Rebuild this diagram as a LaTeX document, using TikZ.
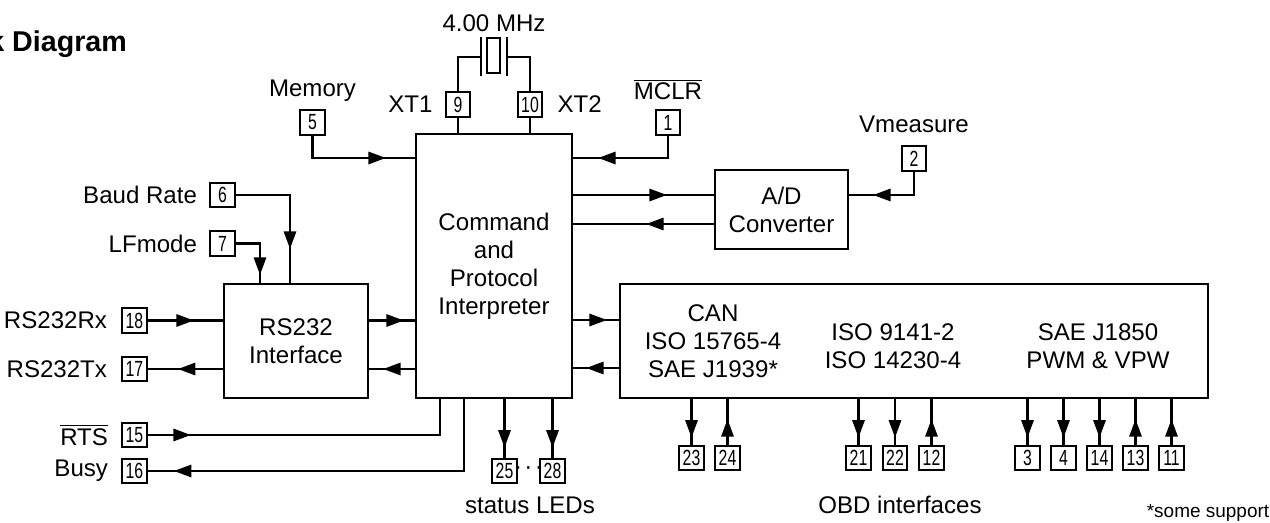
\documentclass[tikz,border=0pt]{standalone}
\usepackage{fontspec}
\setmainfont{Liberation Sans}
\newfontfamily\pinfont[FakeStretch=0.72]{Liberation Sans}
\usetikzlibrary{arrows.meta,decorations.markings,positioning}
\def\txt{\fontsize{13.7}{15.9}\selectfont}% text size of the labels
\def\pinsz{\pinfont\fontsize{12.5}{12.5}\selectfont}

\begin{document}
\begin{tikzpicture}[x=0.02cm,y=-0.02cm,line width=1.3pt,
    blk/.style={draw,inner sep=0pt,align=center,font=\txt},
    pin/.style={draw,minimum size=0.49cm,inner sep=0pt,font=\pinsz},
    lbl/.style={inner sep=0pt,font=\txt},
    tip/.style={postaction={decorate,decoration={markings,
        mark=at position #1 with {\arrow{Triangle[length=10pt,width=7pt]}}}}}]
   \useasboundingbox (0,0) rectangle (1270,523);

   \node[anchor=base east,inner sep=0pt,font=\bfseries\fontsize{16.3}{18}\selectfont] (title) at (128,52) {Block Diagram};

   % blocks
   \node[blk,minimum width=3.12cm,minimum height=5.28cm] (cmd) at (494,266) {Command\\and\\Protocol\\Interpreter};
   \node[blk,minimum width=2.66cm,minimum height=1.58cm] (adc) at (781.5,209.5) {A/D\\Converter};
   \node[blk,minimum width=2.88cm,minimum height=2.28cm] (rs) at (296,341) {RS232\\Interface};
   \node[blk,minimum width=11.76cm,minimum height=2.28cm] (obd) at (914,341) {};
   \node[lbl,align=center] (can) at (713,341) {CAN\\ISO 15765-4\\SAE J1939*};
   \node[lbl,align=center] (kline) at (893,346) {ISO 9141-2\\ISO 14230-4};
   \node[lbl,align=center] (j1850) at (1098,346) {SAE J1850\\PWM \& VPW};

   % pins round the command block
   \node[pin] (p9) at (458,104.5) {9};
   \node[pin] (p10) at (530,104.5) {10};
   \node[pin] (p1) at (668,122.5) {1};
   \node[pin] (p5) at (312.5,122.5) {5};
   \node[pin] (p2) at (914,158.5) {2};
   \node[pin] (p6) at (222.5,195) {6};
   \node[pin] (p7) at (222.5,243.5) {7};
   \node[pin] (p18) at (134.5,320.5) {18};
   \node[pin] (p17) at (134.5,369) {17};
   \node[pin] (p15) at (134.5,435) {15};
   \node[pin] (p16) at (134.5,471) {16};
   \node[pin] (p25) at (504.5,471) {25};
   \node[pin] (p28) at (552.5,471) {28};
   \node[inner sep=0pt,font=\txt] (dots) at (528.5,471) {·\hspace{1.4pt}·\hspace{1.4pt}·};
   \foreach \n/\x in {23/691.5,24/727.5,21/858.5,22/895,12/931.5,3/1027.5,4/1063.5,14/1099.5,13/1135.5,11/1171.5}
      \node[pin] (p\n) at (\x,458) {\n};

   % labels
   \node[lbl] (xtal) at (494,23) {4.00 MHz};
   \node[lbl,left=0.22cm of p9] (xt1) {XT1};
   \node[lbl,right=0.26cm of p10] (xt2) {XT2};
   \node[lbl,above=0.16cm of p1] (mclr) {$\overline{\hbox{MCLR}}$};
   \node[lbl,above=0.13cm of p5] (mem) {Memory};
   \node[lbl,above=0.22cm of p2] (vmeas) {Vmeasure};
   \node[lbl,left=0.22cm of p6] (baud) {Baud Rate};
   \node[lbl,left=0.22cm of p7] (lfm) {LFmode};
   \node[lbl,left=0.26cm of p18] (rx) {RS232Rx};
   \node[lbl,left=0.26cm of p17] (tx) {RS232Tx};
   \node[lbl,left=0.24cm of p15] (rts) {$\overline{\hbox{RTS}}$};
   \node[lbl,left=0.24cm of p16] (busy) {Busy};
   \node[lbl] (leds) at (530,505) {status LEDs};
   \node[lbl] (obdif) at (900,505) {OBD interfaces};
   \node[inner sep=0pt,font=\fontsize{10.8}{12}\selectfont] (note) at (1208,513) {*some support};

   % crystal
   \coordinate (xl) at (481,57);
   \coordinate (xr) at (507,57);
   \draw (481,37) -- (481,76) (507,37) -- (507,76);
   \draw (487,38) rectangle (500,73);
   \draw (p9) |- (xl);
   \draw (p10) |- (xr);
   \draw (p9) -- (p9 |- cmd.north);
   \draw (p10) -- (p10 |- cmd.north);

   % levels of the horizontal lines
   \coordinate (ymem) at (0,158);
   \coordinate (yad1) at (0,195);
   \coordinate (yad2) at (0,224);
   \coordinate (yin) at (0,320);
   \coordinate (yout) at (0,368);
   \coordinate (xbaud) at (290,0);
   \coordinate (xlf) at (260,0);
   \coordinate (xrts) at (440,0);
   \coordinate (xbusy) at (464,0);

   \draw[tip=-0.58cm] (p5) |- (cmd.west |- ymem);
   \draw[tip=-0.5cm] (p1) |- (cmd.east |- ymem);
   \draw[tip=-0.94cm] (cmd.east |- yad1) -- (adc.west |- yad1);
   \draw[tip=-1.46cm] (adc.west |- yad2) -- (cmd.east |- yad2);
   \draw[tip=-0.48cm] (p2) |- (adc.east |- yad1);

   \draw[tip=-0.68cm] (p6) -| (rs.north -| xbaud);
   \draw[tip=-0.16cm] (p7) -| (rs.north -| xlf);
   \draw[tip=-0.58cm] (p18) -- (rs.west |- p18);
   \draw[tip=-0.6cm] (rs.west |- p17) -- (p17);
   \draw[tip=-0.22cm] (rs.east |- p18) -- (cmd.west |- p18);
   \draw[tip=-0.28cm] (cmd.west |- p17) -- (rs.east |- p17);
   \draw[tip=0.86cm] (p15) -| (cmd.south -| xrts);
   \draw[tip=-0.52cm] (cmd.south -| xbusy) |- (p16);
   \draw[tip=-0.2cm] (cmd.south -| p25) -- (p25);
   \draw[tip=-0.2cm] (cmd.south -| p28) -- (p28);

   \draw[tip=-0.24cm] (cmd.east |- yin) -- (obd.west |- yin);
   \draw[tip=-0.26cm] (obd.west |- yout) -- (cmd.east |- yout);
   \foreach \n in {23,21,22,3,4,14}
      \draw[tip=-0.14cm] (obd.south -| p\n) -- (p\n);
   \foreach \n in {24,12,13,11}
      \draw[tip=-0.4cm] (p\n) -- (obd.south -| p\n);
\end{tikzpicture}
\end{document}
